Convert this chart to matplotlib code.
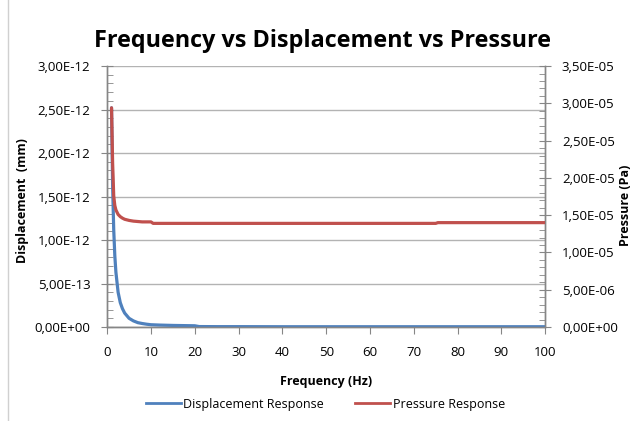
import matplotlib
matplotlib.use("Agg")
import matplotlib.pyplot as plt
from matplotlib.ticker import MultipleLocator, FuncFormatter
from matplotlib.lines import Line2D

plt.rcParams['font.family'] = ['Open Sans', 'DejaVu Sans']

# Data
frequency = [1, 1.25, 1.5, 1.75, 2, 2.5, 3, 3.5, 4, 5, 6, 7, 8, 9, 10, 10.5,
             12, 15, 20, 21, 25, 30, 40, 50, 60, 70, 75, 75.5, 80, 90, 100]
displacement = [2.52e-12, 1.62e-12, 1.12e-12, 0.82e-12, 0.63e-12, 0.40e-12, 0.28e-12,
                0.21e-12, 0.16e-12, 0.10e-12, 0.07e-12, 0.05e-12, 0.04e-12, 0.032e-12,
                0.026e-12, 0.025e-12, 0.022e-12, 0.018e-12, 0.014e-12, 0.005e-12,
                0.004e-12, 0.004e-12, 0.003e-12, 0.003e-12, 0.003e-12, 0.003e-12,
                0.003e-12, 0.003e-12, 0.003e-12, 0.003e-12, 0.003e-12]
pressure = [2.94e-5, 2.20e-5, 1.76e-5, 1.63e-5, 1.57e-5, 1.51e-5, 1.48e-5, 1.46e-5,
            1.445e-5, 1.43e-5, 1.42e-5, 1.415e-5, 1.41e-5, 1.41e-5, 1.41e-5, 1.39e-5,
            1.39e-5, 1.39e-5, 1.39e-5, 1.39e-5, 1.39e-5, 1.39e-5, 1.39e-5, 1.39e-5,
            1.39e-5, 1.39e-5, 1.39e-5, 1.40e-5, 1.40e-5, 1.40e-5, 1.40e-5]

title = "Frequency vs Displacement vs Pressure"
blue = "#4F81BD"
red = "#C0504D"
gray = "#868686"

fig = plt.figure(figsize=(6.34, 4.21), dpi=100)
ax = fig.add_axes([0.169, 0.2233, 0.691, 0.6197])
ax2 = ax.twinx()

ax.plot(frequency, displacement, color=blue, lw=2.3, solid_capstyle='round', zorder=3)
ax2.plot(frequency, pressure, color=red, lw=2.3, solid_capstyle='round', zorder=3)

ax.set_xlim(0, 100)
ax.set_ylim(0, 3e-12)
ax2.set_ylim(0, 3.5e-5)

def fmt(v, pos):
    return f"{v:.2E}".replace('.', ',')

ax.xaxis.set_major_locator(MultipleLocator(10))
ax.yaxis.set_major_locator(MultipleLocator(0.5e-12))
ax.yaxis.set_minor_locator(MultipleLocator(0.1e-12))
ax.yaxis.set_major_formatter(FuncFormatter(fmt))
ax2.yaxis.set_major_locator(MultipleLocator(0.5e-5))
ax2.yaxis.set_minor_locator(MultipleLocator(0.1e-5))
ax2.yaxis.set_major_formatter(FuncFormatter(fmt))
ax.yaxis.get_offset_text().set_visible(False)
ax2.yaxis.get_offset_text().set_visible(False)

ax.grid(axis='y', which='major', color='#b3b3b3', lw=1.0)
ax.set_axisbelow(True)

for a in (ax, ax2):
    for s in a.spines.values():
        s.set_color(gray)
        s.set_linewidth(1.0)
    a.spines['top'].set_visible(False)

ax.tick_params(axis='x', direction='out', length=5, color=gray, labelsize=9.5, pad=9)
ax.tick_params(axis='y', which='major', direction='inout', length=8, color=gray, labelsize=9.5, pad=8)
ax.tick_params(axis='y', which='minor', direction='in', length=4, color=gray)
ax2.tick_params(axis='y', which='major', direction='inout', length=8, color=gray, labelsize=9.5, pad=8)
ax2.tick_params(axis='y', which='minor', direction='in', length=4, color=gray)

fig.text(0.509, 0.903, title, ha='center', va='center', fontsize=16.8, fontweight='bold')
ax.set_xlabel("Frequency (Hz)", fontsize=9, fontweight='bold', labelpad=11)
fig.text(0.036, 0.523, "Displacement  (mm)", rotation=90, ha='center', va='center',
         fontsize=9, fontweight='bold')
fig.text(0.986, 0.513, "Pressure (Pa)", rotation=90, ha='center', va='center',
         fontsize=9, fontweight='bold')

handles = [Line2D([], [], color=blue, lw=2), Line2D([], [], color=red, lw=2)]
fig.legend(handles, ["Displacement Response", "Pressure Response"], loc='center',
           bbox_to_anchor=(0.513, 0.04), ncol=2, frameon=False, fontsize=9,
           handlelength=2.8, handletextpad=0.2, columnspacing=2.5)

# spreadsheet edge at left
fig.add_artist(Line2D([0.013, 0.013], [0, 1], color='#d0d0d0', lw=1, transform=fig.transFigure))

fig.savefig("out.png", dpi=100)
